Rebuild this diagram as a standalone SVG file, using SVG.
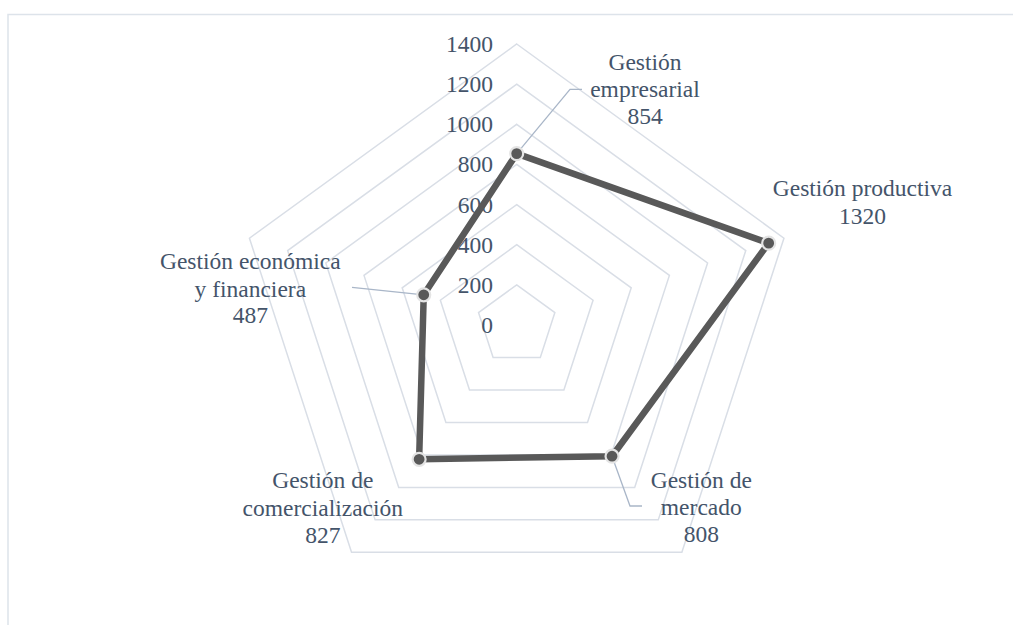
<svg xmlns="http://www.w3.org/2000/svg" width="1013" height="625" viewBox="0 0 1013 625">
<style>
.grid{fill:none;stroke:#d9dee6;stroke-width:1.5}
.lead{fill:none;stroke:#a9b6c8;stroke-width:1.3}
.series{fill:none;stroke:#595959;stroke-width:6.5;stroke-linejoin:round}
.mk{fill:#595959;stroke:#e4e4e4;stroke-width:2.2}
.t{font-family:'Liberation Serif','Times New Roman',Tinos,'DejaVu Serif',serif;font-size:23.5px;fill:#44546a}
.ax{text-anchor:end}
.lbl{text-anchor:middle}
</style>
<rect width="1013" height="625" fill="#ffffff"/>
<rect x="8" y="14.5" width="1020" height="630" fill="none" stroke="#dde3ea" stroke-width="1.5"/>
<g id="grid">
<polygon class="grid" points="516.7,284.86 554.88,312.6 540.3,357.48 493.1,357.48 478.52,312.6"/>
<polygon class="grid" points="516.7,244.71 593.06,300.19 563.89,389.95 469.51,389.95 440.34,300.19"/>
<polygon class="grid" points="516.7,204.57 631.23,287.79 587.49,422.43 445.91,422.43 402.17,287.79"/>
<polygon class="grid" points="516.7,164.43 669.41,275.38 611.08,454.9 422.32,454.9 363.99,275.38"/>
<polygon class="grid" points="516.7,124.29 707.59,262.98 634.68,487.38 398.72,487.38 325.81,262.98"/>
<polygon class="grid" points="516.7,84.14 745.77,250.57 658.27,519.86 375.13,519.86 287.63,250.57"/>
<polygon class="grid" points="516.7,44 783.95,238.17 681.87,552.33 351.53,552.33 249.45,238.17"/>
</g>
<g id="axis-labels" class="t ax" font-family="Liberation Serif, serif">
<text x="493" y="333">0</text>
<text x="493" y="293">200</text>
<text x="493" y="253">400</text>
<text x="493" y="212.6">600</text>
<text x="493" y="172.4">800</text>
<text x="493" y="132.3">1000</text>
<text x="493" y="92.1">1200</text>
<text x="493" y="52">1400</text>
</g>
<g id="connectors">
<polyline class="lead" points="516.7,153.6 570,89.3 582,89.3"/>
<line class="lead" x1="352" y1="287.3" x2="423.7" y2="294.8"/>
<polyline class="lead" points="612,456.2 630,506 642,506"/>
</g>
<g id="series">
<polygon class="series" points="516.7,153.59 768.67,243.13 612.03,456.21 419.13,459.29 423.73,294.79"/>
</g>
<g id="node-empresarial" class="t lbl" font-family="Liberation Serif, serif">
<circle class="mk" cx="516.7" cy="153.59" r="6.5"/>
<text x="645" y="70">Gestión</text>
<text x="645" y="97">empresarial</text>
<text x="645" y="124">854</text>
</g>
<g id="node-productiva" class="t lbl" font-family="Liberation Serif, serif">
<circle class="mk" cx="768.67" cy="243.13" r="6.5"/>
<text x="862.5" y="196">Gestión productiva</text>
<text x="862.5" y="223.5">1320</text>
</g>
<g id="node-mercado" class="t lbl" font-family="Liberation Serif, serif">
<circle class="mk" cx="612.03" cy="456.21" r="6.5"/>
<text x="701.3" y="487.5">Gestión de</text>
<text x="701.3" y="514.5">mercado</text>
<text x="701.3" y="542">808</text>
</g>
<g id="node-comercializacion" class="t lbl" font-family="Liberation Serif, serif">
<circle class="mk" cx="419.13" cy="459.29" r="6.5"/>
<text x="322.8" y="488.3">Gestión de</text>
<text x="322.8" y="515.5">comercialización</text>
<text x="322.8" y="542.5">827</text>
</g>
<g id="node-economica" class="t lbl" font-family="Liberation Serif, serif">
<circle class="mk" cx="423.73" cy="294.79" r="6.5"/>
<text x="250.3" y="269">Gestión económica</text>
<text x="250.3" y="296.5">y financiera</text>
<text x="250.3" y="323.3">487</text>
</g>
</svg>
